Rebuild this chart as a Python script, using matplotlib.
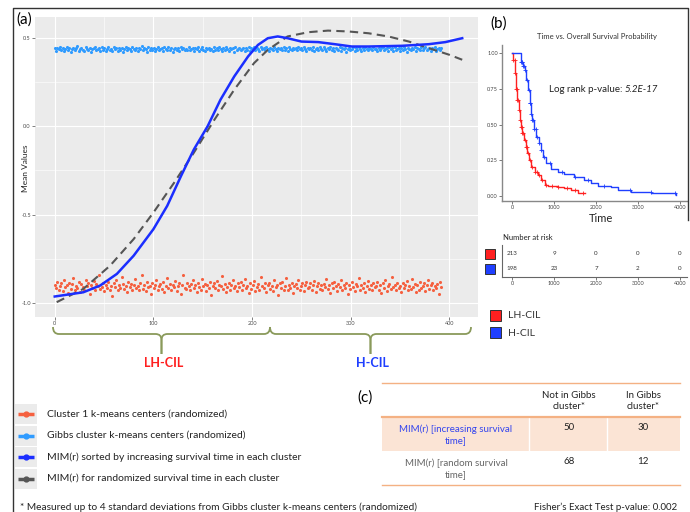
import numpy as np
import matplotlib
matplotlib.use('Agg')
import matplotlib.pyplot as plt
from matplotlib.path import Path
from matplotlib.patches import PathPatch, Rectangle

# ---- panel (a) data ----
# Cluster 1 k-means centers (randomized), thousandths
cluster1_y = [
    -900, -915, -880, -925, -905, -890, -935, -870, -910, -900, -945, -885, -920, -895, -860, -930, -905, -915, -880, -940,
    -895, -910, -925, -870, -905, -890, -950, -900, -915, -875, -930, -895, -905, -845, -920, -910, -885, -935, -900, -915,
    -880, -925, -905, -960, -890, -910, -870, -930, -900, -915, -855, -895, -920, -905, -940, -880, -910, -895, -925, -900,
    -865, -915, -905, -930, -890, -845, -920, -900, -935, -880, -910, -905, -950, -885, -915, -900, -870, -930, -905, -895,
    -920, -880, -940, -905, -860, -915, -895, -925, -900, -910, -875, -935, -905, -890, -950, -900, -845, -915, -920, -885,
    -905, -930, -895, -870, -915, -900, -940, -885, -910, -925, -865, -905, -895, -935, -900, -915, -880, -955, -905, -890,
    -915, -875, -930, -900, -905, -850, -920, -895, -940, -910, -885, -925, -900, -870, -915, -905, -935, -890, -910, -880,
    -930, -900, -865, -915, -905, -945, -890, -920, -900, -875, -935, -910, -895, -925, -855, -905, -915, -890, -940, -900,
    -885, -920, -905, -935, -870, -910, -900, -955, -890, -915, -880, -925, -905, -860, -930, -900, -915, -885, -945, -905,
    -895, -915, -870, -925, -905, -890, -935, -900, -880, -915, -910, -890, -925, -900, -875, -940, -905, -885, -920, -900,
    -930, -895, -910, -865, -920, -900, -945, -890, -915, -880, -905, -935, -895, -910, -870, -925, -900, -915, -885, -950,
    -900, -920, -880, -910, -935, -895, -905, -860, -925, -900, -915, -890, -940, -905, -875, -920, -900, -930, -885, -910,
    -905, -880, -925, -900, -945, -890, -915, -870, -935, -905, -895, -920, -855, -910, -900, -930, -885, -915, -905, -940,
    -890, -915, -900, -875, -930, -905, -920, -865, -910, -895, -940, -900, -925, -880, -915, -905, -890, -935, -900, -870,
    -920, -900, -885, -930, -905, -915, -895, -950, -880, -910,
]
# Gibbs cluster k-means centers (randomized), thousandths
gibbs_y = [
    440, 428, 445, 435, 450, 430, 442, 425, 438, 447, 432, 440, 420, 436, 445, 430, 441, 452, 428, 437,
    444, 433, 426, 448, 439, 431, 445, 422, 437, 441, 450, 429, 436, 443, 427, 446, 434, 440, 424, 438,
    447, 431, 439, 428, 451, 436, 442, 425, 445, 433, 440, 419, 437, 446, 430, 443, 435, 428, 449, 438,
    432, 445, 426, 440, 436, 452, 429, 443, 438, 421, 447, 434, 441, 430, 445, 427, 439, 448, 433, 436,
    441, 425, 446, 437, 430, 449, 434, 443, 422, 438, 445, 431, 440, 427, 450, 436, 444, 429, 439, 433,
    448, 430, 437, 444, 424, 441, 435, 446, 428, 439, 451, 433, 426, 442, 437, 445, 430, 438, 423, 447,
    434, 441, 429, 446, 437, 426, 443, 432, 450, 438, 427, 445, 436, 440, 421, 448, 433, 439, 444, 430,
    437, 445, 428, 441, 433, 449, 425, 440, 436, 446, 431, 443, 438, 424, 447, 435, 442, 429, 451, 437,
    426, 444, 439, 431, 448, 436, 423, 442, 437, 445, 430, 449, 434, 441, 427, 446, 438, 432, 443, 436,
    440, 429, 447, 435, 442, 431, 446, 438, 427, 444, 436, 441, 430, 448, 425, 439, 444, 433, 450, 437,
    429, 446, 438, 423, 442, 435, 447, 431, 440, 426, 444, 437, 432, 449, 428, 441, 436, 445, 422, 439,
    443, 430, 437, 451, 427, 440, 434, 446, 438, 425, 442, 433, 448, 436, 429, 444, 439, 431, 447, 435,
    438, 426, 445, 432, 441, 449, 430, 437, 443, 424, 446, 435, 440, 428, 450, 433, 439, 445, 427, 442,
    431, 447, 436, 422, 444, 438, 429, 441, 435, 448, 426, 443, 437, 432, 446, 430, 440, 451, 434, 439,
    445, 428, 441, 436, 447, 424, 438, 443, 431, 440,
]
# MIM(r) sorted by increasing survival time
sorted_x = [0, 29, 46, 63, 80, 100, 114, 128, 141, 155, 168, 182, 196, 206, 216, 226, 236, 250, 267, 284, 301, 318, 352, 379, 396, 413]
sorted_y = [-0.964, -0.94, -0.902, -0.836, -0.733, -0.583, -0.451, -0.282, -0.132, 0.0, 0.15, 0.282, 0.395, 0.46, 0.498,
            0.508, 0.498, 0.479, 0.476, 0.464, 0.451, 0.451, 0.455, 0.464, 0.476, 0.498]
# MIM(r) for randomized survival time
random_x = [2, 29, 56, 80, 100, 121, 141, 162, 182, 202, 216, 236, 257, 277, 298, 318, 338, 359, 379, 400, 413]
random_y = [-0.996, -0.921, -0.79, -0.639, -0.489, -0.32, -0.15, 0.038, 0.207, 0.357, 0.432, 0.508, 0.532, 0.541,
            0.536, 0.526, 0.508, 0.479, 0.442, 0.404, 0.376]

# ---- panel (b) data ----
lh_time = [0, 24, 63, 95, 126, 158, 182, 205, 237, 285, 324, 364, 403, 458, 538, 617, 696, 775, 854, 1091, 1249, 1407, 1565, 1739]
lh_surv = [1.0, 0.95, 0.86, 0.75, 0.67, 0.60, 0.53, 0.48, 0.44, 0.39, 0.34, 0.30, 0.25, 0.20, 0.17, 0.15, 0.11, 0.08,
           0.07, 0.065, 0.055, 0.042, 0.023, 0.019]
h_time = [0, 205, 261, 300, 340, 380, 419, 443, 474, 522, 577, 632, 680, 735, 814, 933, 1091, 1249, 1486, 1723, 1881,
          2040, 2356, 2514, 2830, 3304, 3897]
h_surv = [1.0, 0.94, 0.91, 0.88, 0.81, 0.74, 0.65, 0.57, 0.53, 0.47, 0.41, 0.37, 0.32, 0.27, 0.23, 0.19, 0.17, 0.153,
          0.135, 0.11, 0.088, 0.072, 0.06, 0.042, 0.03, 0.019, 0.007]
lh_censor = [30, 60, 80, 100, 115, 130, 150, 170, 190, 215, 230, 250, 270, 300, 330, 350, 390, 420, 480, 550,
             600, 650, 720, 800, 950, 1100, 1300, 1500, 1700]
h_censor = [220, 235, 250, 270, 290, 320, 360, 400, 420, 440, 460, 480, 500, 530, 560, 600, 650, 700, 760,
            900, 1200, 1500, 1800, 2200, 2800, 3300, 3890]
risk_times = [0, 1000, 2000, 3000, 4000]
lh_risk = [213, 9, 0, 0, 0]
h_risk = [198, 23, 7, 2, 0]

# ---- panel (c) data ----
col_headers = ['Not in Gibbs\ncluster*', 'In Gibbs\ncluster*']
row_labels = ['MIM(r) [increasing survival\ntime]', 'MIM(r) [random survival\ntime]']
counts = [[50, 30], [68, 12]]

legend_labels = ['Cluster 1 k-means centers (randomized)',
                 'Gibbs cluster k-means centers (randomized)',
                 'MIM(r) sorted by increasing survival time in each cluster',
                 'MIM(r) for randomized survival time in each cluster']

RED_PT = '#f5603f'
BLUE_PT = '#2f9bff'
BLUE_LN = '#1b2eff'
GRAY_LN = '#555555'
KM_RED = '#ff2020'
KM_BLUE = '#1f3fff'

W, H = 690, 512


def box(l, t, r, b):
    # pixel box -> figure fraction
    return [l / W, 1 - b / H, (r - l) / W, (b - t) / H]


def step_at(times, surv, t):
    i = np.searchsorted(times, t, side='right') - 1
    return np.array(surv)[i]


plt.rcParams['font.family'] = ['Lato', 'DejaVu Sans']
fig = plt.figure(figsize=(6.9, 5.12), dpi=100)

# overlay in pixel coordinates for annotations
ov = fig.add_axes([0, 0, 1, 1], zorder=5)
ov.set_xlim(0, W)
ov.set_ylim(H, 0)
ov.axis('off')

# ---- (a) ----
ax = fig.add_axes(box(35, 17, 478, 317))
ax.set_facecolor('#ebebeb')
c1 = np.array(cluster1_y) / 1000
gb = np.array(gibbs_y) / 1000
ax.scatter(np.linspace(0, 392, len(c1)), c1, s=5, color=RED_PT, lw=0, zorder=3)
ax.scatter(np.linspace(0, 392, len(gb)), gb, s=5, color=BLUE_PT, lw=0, zorder=3)
ax.plot(random_x, random_y, color=GRAY_LN, lw=1.5, ls=(0, (4, 2.5)), zorder=4)
ax.plot(sorted_x, sorted_y, color=BLUE_LN, lw=1.8, zorder=5)
ax.set_xlim(-20, 429)
ax.set_ylim(-1.08, 0.618)
ax.set_xticks([0, 100, 200, 300, 400])
ax.set_yticks([-1.0, -0.5, 0.0, 0.5])
ax.set_yticklabels(['-1.0', '-0.5', '0.0', '0.5'])
ax.set_xticks([50, 150, 250, 350], minor=True)
ax.set_yticks([-0.75, -0.25, 0.25], minor=True)
ax.grid(which='major', color='white', lw=0.8)
ax.grid(which='minor', color='white', lw=0.4)
ax.set_axisbelow(True)
ax.tick_params(labelsize=4, colors='#4d4d4d', length=2, width=0.5, pad=1)
ax.tick_params(which='minor', length=0)
for s in ax.spines.values():
    s.set_visible(False)
ov.text(26, 168, 'Mean Values', rotation=90, fontsize=6, color='#222', ha='center', va='center')

# ---- (b) KM curves ----
kax = fig.add_axes(box(502, 45, 687, 201))
kax.step(lh_time, lh_surv, where='post', color=KM_RED, lw=1)
kax.step(h_time, h_surv, where='post', color=KM_BLUE, lw=1)
kax.plot(lh_censor, step_at(lh_time, lh_surv, lh_censor), '+', color=KM_RED, ms=3, mew=0.6)
kax.plot(h_censor, step_at(h_time, h_surv, h_censor), '+', color=KM_BLUE, ms=3, mew=0.6)
kax.set_xlim(-238, 4167)
kax.set_ylim(-0.035, 1.056)
kax.set_xticks(risk_times)
kax.set_yticks([0, 0.25, 0.5, 0.75, 1.0])
kax.set_yticklabels(['0.00', '0.25', '0.50', '0.75', '1.00'])
kax.tick_params(labelsize=4, colors='#444', length=2, width=0.5, pad=1)
for s in ['top', 'right']:
    kax.spines[s].set_visible(False)
for s in ['left', 'bottom']:
    kax.spines[s].set_color('#888')
    kax.spines[s].set_linewidth(1)
kax.patch.set_alpha(0)

# risk table
rax = fig.add_axes(box(502, 245, 687, 277))
rax.set_xlim(-238, 4167)
rax.set_ylim(0, 1)
for t, a, b in zip(risk_times, lh_risk, h_risk):
    rax.text(t, 0.72, str(a), fontsize=4.5, ha='center', va='center', color='#333')
    rax.text(t, 0.25, str(b), fontsize=4.5, ha='center', va='center', color='#333')
rax.set_xticks(risk_times)
rax.set_yticks([])
rax.tick_params(labelsize=4, colors='#444', length=2, width=0.5, pad=1)
for s in ['top', 'right']:
    rax.spines[s].set_visible(False)
for s in ['left', 'bottom']:
    rax.spines[s].set_color('#666')
    rax.spines[s].set_linewidth(0.8)
rax.patch.set_alpha(0)

ov.add_patch(Rectangle((485, 249), 10, 10, facecolor=KM_RED, edgecolor='#333', lw=0.7))
ov.add_patch(Rectangle((485, 264), 10, 10, facecolor=KM_BLUE, edgecolor='#333', lw=0.7))
ov.text(503, 238, 'Number at risk', fontsize=5.5, color='#222', va='center')
ov.text(597, 36, 'Time vs. Overall Survival Probability', fontsize=5.5, color='#333', ha='center', va='center')
t1 = ov.text(549, 90, 'Log rank p-value: ', fontsize=7, color='#222', va='center')
ov.annotate('5.2E-17', xy=(1, 0), xycoords=t1, va='bottom', fontsize=7, style='italic', color='#222')
ov.text(601, 218, 'Time', fontsize=8, color='#222', ha='center', va='center')

ov.add_patch(Rectangle((490, 310), 11, 11, facecolor=KM_RED, edgecolor='#333', lw=0.7))
ov.add_patch(Rectangle((490, 327), 11, 11, facecolor=KM_BLUE, edgecolor='#333', lw=0.7))
ov.text(508, 316, 'LH-CIL', fontsize=7.5, color='#333', va='center')
ov.text(508, 333, 'H-CIL', fontsize=7.5, color='#333', va='center')

# ---- frame and panel labels ----
ov.plot([13, 13, 688, 688], [515, 8, 8, 220], color='#333', lw=1)
ov.text(24, 20, '(a)', fontsize=11, ha='center', va='center')
ov.text(499, 24, '(b)', fontsize=11, ha='center', va='center')
ov.text(365, 398, '(c)', fontsize=11, ha='center', va='center')


# ---- braces under (a) ----
def brace(x0, x1, y0, yb, y1, r=6, color='#8a9a5b'):
    xm = (x0 + x1) / 2
    for sx, xe in [(1, x0), (-1, x1)]:
        verts = [(xe, y0), (xe, yb), (xe + sx * r, yb), (xm - sx * r, yb), (xm, yb), (xm, yb + r), (xm, y1)]
        codes = [Path.MOVETO, Path.CURVE3, Path.CURVE3, Path.LINETO, Path.CURVE3, Path.CURVE3, Path.LINETO]
        ov.add_patch(PathPatch(Path(verts, codes), facecolor='none', edgecolor=color, lw=1.3))


brace(53, 270, 327, 334, 354)
brace(270, 471, 327, 334, 354)
ov.text(164, 363, 'LH-CIL', fontsize=9, fontweight='bold', color=KM_RED, ha='center', va='center')
ov.text(372, 363, 'H-CIL', fontsize=9, fontweight='bold', color=KM_BLUE, ha='center', va='center')

# ---- legend for (a) ----
leg_colors = [RED_PT, BLUE_PT, BLUE_LN, GRAY_LN]
for i, (lab, col) in enumerate(zip(legend_labels, leg_colors)):
    yc = 414 + i * 21.5
    ov.add_patch(Rectangle((15, yc - 10), 22, 20, facecolor='#ebebeb', edgecolor='none'))
    ov.plot([18, 34], [yc, yc], color=col, lw=2.5, solid_capstyle='butt')
    ov.plot([26], [yc], 'o', color=col, ms=3.5)
    ov.text(47, yc, lab, fontsize=7.5, color='#222', va='center')

ov.text(20, 507, '* Measured up to 4 standard deviations from Gibbs cluster k-means centers (randomized)',
        fontsize=7.3, color='#222', va='center')

# ---- (c) table ----
ORANGE = '#f4b183'
ov.add_patch(Rectangle((382, 417), 298, 34, facecolor='#fbe4d5', edgecolor='none'))
for xv in [529, 607]:
    ov.plot([xv, xv], [417, 451], color='white', lw=1)
ov.plot([382, 680], [383, 383], color=ORANGE, lw=1)
ov.plot([382, 680], [417, 417], color=ORANGE, lw=1.6)
ov.plot([382, 680], [485, 485], color=ORANGE, lw=1)
col_x = [569, 643]
for cx, hd in zip(col_x, col_headers):
    ov.text(cx, 401, hd, fontsize=7, color='#222', ha='center', va='center', linespacing=1.25)
row_colors = ['#3344ee', '#666666']
for j, (lab, rc) in enumerate(zip(row_labels, row_colors)):
    yc = 435 + j * 34
    ov.text(456, yc, lab, fontsize=7, color=rc, ha='center', va='center', linespacing=1.25)
    for cx, v in zip(col_x, counts[j]):
        ov.text(cx, yc - 7, str(v), fontsize=7, color='#222', ha='center', va='center')
ov.text(677, 507, u'Fisher\u2019s Exact Test p-value: 0.002', fontsize=7, color='#222', ha='right', va='center')

fig.savefig('out.png', dpi=100)
